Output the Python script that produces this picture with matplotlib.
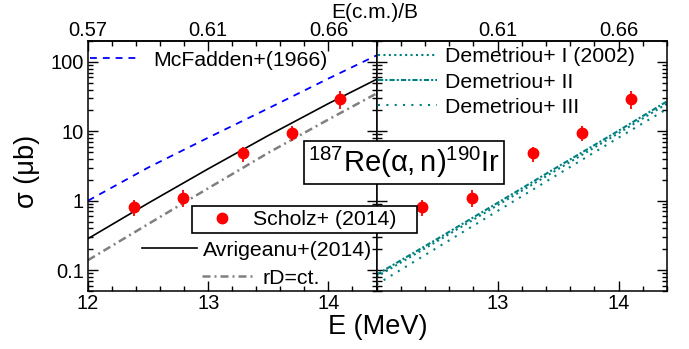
import matplotlib
matplotlib.use('Agg')
import matplotlib.pyplot as plt
from matplotlib.lines import Line2D
from matplotlib.patches import Rectangle
from matplotlib.ticker import MultipleLocator, LogLocator, NullFormatter

plt.rcParams['font.family'] = ['Liberation Sans', 'DejaVu Sans']
plt.rcParams['mathtext.fontset'] = 'custom'
plt.rcParams['mathtext.rm'] = 'Liberation Sans'
plt.rcParams['mathtext.it'] = 'Liberation Sans:italic'
plt.rcParams['mathtext.bf'] = 'Liberation Sans:bold'

# ---------------- data ----------------
E_exp = [12.38, 12.79, 13.29, 13.70, 14.10]
sig_exp = [0.82, 1.11, 4.8, 9.6, 29.5]
sig_err = [0.21, 0.30, 1.2, 2.3, 8.5]

E_calc = [12.0, 12.5, 13.0, 13.5, 14.0, 14.4]
mcfadden = [1.0, 3.0, 8.1, 21.4, 57.5, 124]
avrigeanu = [0.284, 0.92, 2.88, 8.7, 25.1, 56]
rd_ct = [0.139, 0.46, 1.51, 4.9, 14.8, 35]
dem_I = [0.080, 0.26, 0.86, 2.85, 9.4, 25]
dem_II = [0.086, 0.28, 0.93, 3.1, 10.2, 27]
dem_III = [0.062, 0.21, 0.71, 2.4, 8.1, 21]

xticks_left = [12, 13, 14]
xlabels_left = ['12', '13', '14']
toplabels_left = ['0.57', '0.61', '0.66']
xticks_right = [13, 14]
xlabels_right = ['13', '14']
toplabels_right = ['0.61', '0.66']
yticks = [0.1, 1, 10, 100]
ylabels = ['0.1', '1', '10', '100']

# ---------------- figure ----------------
W, H = 689, 349
fig = plt.figure(figsize=(W / 100, H / 100), dpi=100)


def px(x):
    return x / W


def py(y):
    return 1 - y / H


axL = fig.add_axes([px(88), 58 / H, 288.5 / W, 250 / H])
axR = fig.add_axes([px(376.5), 58 / H, 290.5 / W, 250 / H])

TEAL = '#008080'
blue_ls = (0, (3.8, 3.3))
gray_ls = (0, (3.2, 1.6, 0.8, 1.6))

for ax in (axL, axR):
    ax.set_yscale('log')
    ax.set_xlim(12, 14.4)
    ax.set_ylim(0.05, 200)
    ax.errorbar(E_exp, sig_exp, yerr=sig_err, fmt='o', color='red', ms=7.5,
                elinewidth=1.3, capsize=0, zorder=5)
    for s in ax.spines.values():
        s.set_linewidth(1.1)
    ax.yaxis.set_major_locator(plt.FixedLocator(yticks))
    ax.yaxis.set_minor_locator(LogLocator(base=10, subs=range(2, 10)))
    ax.yaxis.set_minor_formatter(NullFormatter())
    ax.xaxis.set_minor_locator(MultipleLocator(0.2))
    ax.tick_params(which='both', direction='in', top=False, right=True,
                   labelsize=14.5, width=1.0)
    ax.tick_params(which='major', length=7)
    ax.tick_params(which='minor', length=3.5)
    ax.tick_params(axis='x', pad=2)
    ax.tick_params(axis='y', pad=3)

# left panel curves
h_mc, = axL.plot(E_calc, mcfadden, color='blue', lw=1.3, ls=blue_ls)
h_av, = axL.plot(E_calc, avrigeanu, color='black', lw=1.2)
h_rd, = axL.plot(E_calc, rd_ct, color='gray', lw=1.8, ls=gray_ls)

# right panel curves
h_d1, = axR.plot(E_calc, dem_I, color=TEAL, lw=1.5, ls=(0, (1, 1.6)))
h_d2, = axR.plot(E_calc, dem_II, color=TEAL, lw=1.5, ls=(0, (2.5, 1, 1, 1)))
h_d3, = axR.plot(E_calc, dem_III, color=TEAL, lw=1.5, ls=(0, (1, 3)))

axL.set_xticks(xticks_left, xlabels_left)
axL.set_yticklabels(ylabels)
axR.set_xticks(xticks_right, xlabels_right)
axR.tick_params(labelleft=False)

# top axes
for ax, tk, lb in ((axL, xticks_left, toplabels_left), (axR, xticks_right, toplabels_right)):
    sec = ax.secondary_xaxis('top')
    sec.set_xticks(tk, lb)
    sec.xaxis.set_minor_locator(MultipleLocator(0.2))
    sec.tick_params(which='both', direction='in', labelsize=14.5, width=1.0, pad=1)
    sec.tick_params(which='major', length=7)
    sec.tick_params(which='minor', length=3.5)
    sec.spines['top'].set_linewidth(1.1)

# axis labels
fig.text(px(377.5), py(327), 'E (MeV)', fontsize=19.5, ha='center', va='center')
fig.text(px(27), py(171), 'σ (μb)', fontsize=19.5, rotation=90, ha='center', va='center')
fig.text(px(375), py(12), 'E(c.m.)/B', fontsize=15, ha='center', va='center')

# legends
FS = 15.3


def leg(handles, labels, x, y, hl, tp):
    lg = fig.legend(handles, labels, loc='center left', bbox_to_anchor=(px(x), py(y)),
                    bbox_transform=fig.transFigure, frameon=False, borderpad=0,
                    borderaxespad=0, handlelength=hl, handletextpad=tp, fontsize=FS)
    return lg


leg([h_mc], ['McFadden+(1966)'], 90, 60, 2.26, 0.71)
h_sc = Line2D([], [], ls='none', marker='o', color='red', ms=7.5)
fig.patches.append(Rectangle((px(192), py(233)), px(417) - px(192), py(206) - py(233),
                             transform=fig.transFigure, fc='white', ec='black', lw=1.2,
                             zorder=4))
leg([h_sc], ['Scholz+ (2014)'], 200.75, 219.5, 2.0, 0.46)
leg([h_av], ['Avrigeanu+(2014)'], 142, 250, 2.59, 0.28)
leg([h_rd], ['rD=ct.'], 202, 278, 2.49, 0.38)
leg([h_d1], ['Demetriou+ I (2002)'], 378, 57, 2.78, 0.38)
leg([h_d2], ['Demetriou+ II'], 378, 82, 2.78, 0.38)
leg([h_d3], ['Demetriou+ III'], 378, 107, 2.78, 0.38)

# reaction label
fig.text(px(404), py(162.5), r'$\mathregular{^{187}Re(\alpha,n)^{190}Ir}$', fontsize=21,
         ha='center', va='center', zorder=6,
         bbox=dict(boxstyle='square,pad=0.12', fc='white', ec='black', lw=1.2))

fig.savefig('out.png', dpi=100)
